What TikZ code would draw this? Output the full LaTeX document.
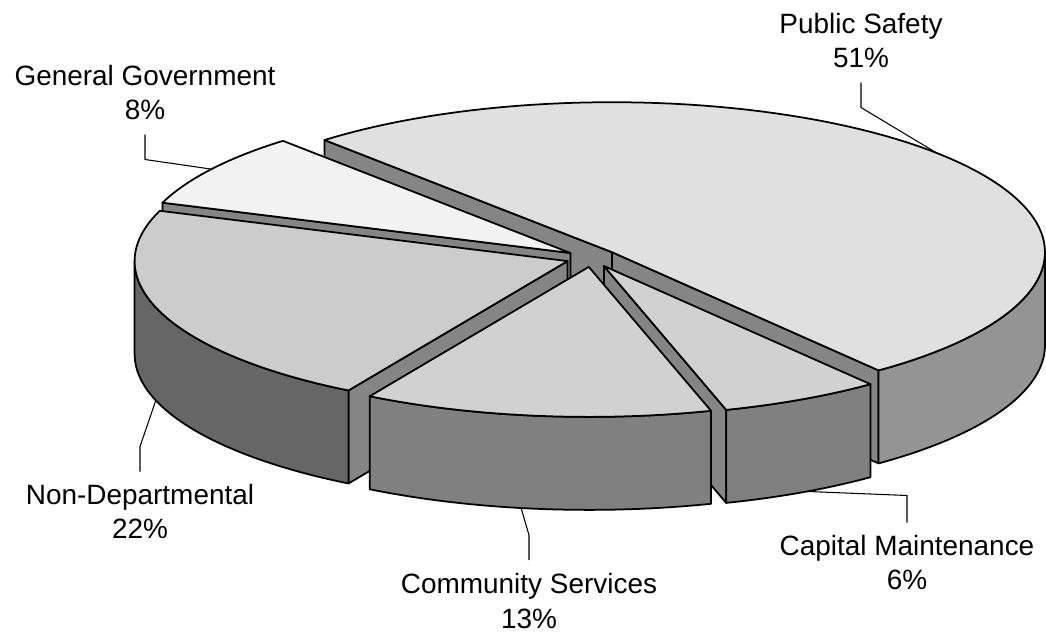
\documentclass[tikz,border=0pt]{standalone}
\usepackage{fontspec}
\setmainfont{Liberation Sans}
\usetikzlibrary{positioning,calc}
\newcommand{\pierx}{433}
\newcommand{\piery}{150}
\newcommand{\piedep}{93}
\begin{document}
\begin{tikzpicture}[x=0.02cm,y=-0.02cm,line join=round,
		topface/.style={draw=black,line width=1pt},
		wallface/.style={draw=black,line width=1pt,fill=black!50},
		cutface/.style={draw=black,line width=1pt,fill=black!48},
		lbl/.style={align=center,inner sep=0pt,font=\fontsize{15.9}{19.8}\selectfont},
		leader/.style={draw=black,line width=0.6pt}]
		\useasboundingbox (0,0) rectangle (1046,632);

		\filldraw[cutface] (612,252.2) -- ({612+\pierx*cos(131.6)},{252.2-\piery*sin(131.6)}) -- ++(0,\piedep) -- (612,{252.2+\piedep}) -- cycle;
		\filldraw[cutface] (612,252.2) -- ({612+\pierx*cos(308)},{252.2-\piery*sin(308)}) -- ++(0,\piedep) -- (612,{252.2+\piedep}) -- cycle;
		\filldraw[wallface,fill=black!42] plot[domain=308:360,samples=40] ({612+\pierx*cos(\x)},{252.2-\piery*sin(\x)}) -- plot[domain=360:308,samples=40] ({612+\pierx*cos(\x)},{252.2+\piedep-\piery*sin(\x)}) -- cycle;
		\filldraw[topface,fill=black!12] (612,252.2) -- plot[domain=308:491.6,samples=90] ({612+\pierx*cos(\x)},{252.2-\piery*sin(\x)}) -- cycle;

		\filldraw[cutface] (570.4,253) -- ({570.4+\pierx*cos(160.4)},{253-\piery*sin(160.4)}) -- ++(0,\piedep) -- (570.4,{253+\piedep}) -- cycle;
		\filldraw[topface,fill=black!5] (570.4,253) -- plot[domain=131.6:160.4,samples=30] ({570.4+\pierx*cos(\x)},{253-\piery*sin(\x)}) -- cycle;

		\filldraw[cutface] (567.6,261.1) -- ({567.6+\pierx*cos(239.6)},{261.1-\piery*sin(239.6)}) -- ++(0,\piedep) -- (567.6,{261.1+\piedep}) -- cycle;
		\filldraw[wallface,fill=black!60] plot[domain=180:239.6,samples=40] ({567.6+\pierx*cos(\x)},{261.1-\piery*sin(\x)}) -- plot[domain=239.6:180,samples=40] ({567.6+\pierx*cos(\x)},{261.1+\piedep-\piery*sin(\x)}) -- cycle;
		\filldraw[topface,fill=black!20] (567.6,261.1) -- plot[domain=160.4:239.6,samples=50] ({567.6+\pierx*cos(\x)},{261.1-\piery*sin(\x)}) -- cycle;

		\filldraw[cutface] (603.9,266) -- ({603.9+\pierx*cos(286.4)},{266-\piery*sin(286.4)}) -- ++(0,\piedep) -- (603.9,{266+\piedep}) -- cycle;
		\filldraw[wallface] plot[domain=286.4:308,samples=20] ({603.9+\pierx*cos(\x)},{266-\piery*sin(\x)}) -- plot[domain=308:286.4,samples=20] ({603.9+\pierx*cos(\x)},{266+\piedep-\piery*sin(\x)}) -- cycle;
		\filldraw[topface,fill=black!18] (603.9,266) -- plot[domain=286.4:308,samples=20] ({603.9+\pierx*cos(\x)},{266-\piery*sin(\x)}) -- cycle;

		\filldraw[wallface] plot[domain=239.6:286.4,samples=30] ({588.8+\pierx*cos(\x)},{266.9-\piery*sin(\x)}) -- plot[domain=286.4:239.6,samples=30] ({588.8+\pierx*cos(\x)},{266.9+\piedep-\piery*sin(\x)}) -- cycle;
		\filldraw[topface,fill=black!18] (588.8,266.9) -- plot[domain=239.6:286.4,samples=30] ({588.8+\pierx*cos(\x)},{266.9-\piery*sin(\x)}) -- cycle;

		\node[lbl] (safety) at (861,40.5) {Public Safety\\51\%};
		\node[lbl] (govt) at (145,92.5) {General Government\\8\%};
		\node[lbl] (nondept) at (140,511.5) {Non-Departmental\\22\%};
		\node[lbl] (community) at (529,601) {Community Services\\13\%};
		\node[lbl] (capital) at (907,562.5) {Capital Maintenance\\6\%};

		\coordinate (safety-tip) at ({612+\pierx*cos(41.4)},{252.2-\piery*sin(41.4)});
		\coordinate (govt-tip) at ({570.4+\pierx*cos(146)},{253-\piery*sin(146)});
		\coordinate (nondept-tip) at ({567.6+\pierx*cos(198)},{261.1+\piedep-\piery*sin(198)});
		\coordinate (community-tip) at ({588.8+\pierx*cos(261)},{266.9+\piedep-\piery*sin(261)});
		\coordinate (capital-tip) at ({603.9+\pierx*cos(298)},{266+\piedep-\piery*sin(298)});

		\draw[leader] (safety.south) ++(0,14) -- ++(0,25) -- (safety-tip);
		\draw[leader] (govt.south) ++(0,14) -- ++(0,25) -- (govt-tip);
		\draw[leader] (nondept.north) ++(0,-12) -- ++(0,-25) -- (nondept-tip);
		\draw[leader] (community.north) ++(0,-13) -- ++(0,-25) -- (community-tip);
		\draw[leader] (capital.north) ++(0,-12) -- ++(0,-27) -- (capital-tip);
	\end{tikzpicture}
\end{document}
